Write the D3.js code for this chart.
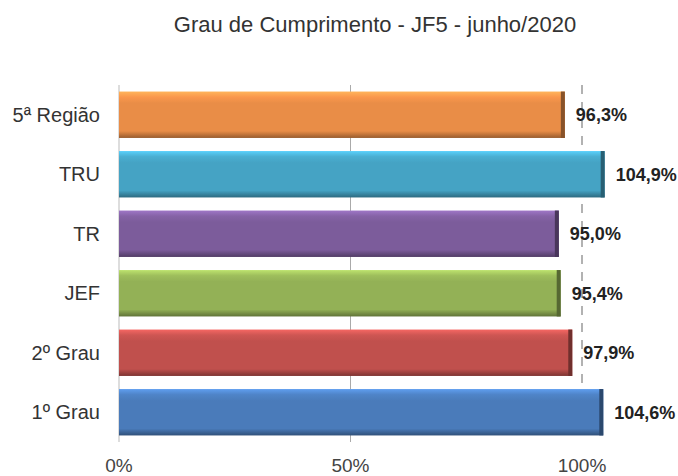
<!DOCTYPE html>
<html><head><meta charset="utf-8">
<script src="https://cdn.jsdelivr.net/npm/d3@7"></script>
<style>body{margin:0;background:#fff;}svg{display:block;font-family:Arial,"Liberation Sans",sans-serif;}</style>
</head><body>
<svg id="c" width="678" height="476"></svg>
<script>
const categories = ["5ª Região","TRU","TR","JEF","2º Grau","1º Grau"];
const values = [96.3,104.9,95.0,95.4,97.9,104.6];
const valueLabels = ["96,3%","104,9%","95,0%","95,4%","97,9%","104,6%"];
const colors = ["#E98D47","#45A3C4","#7C5C9B","#93B156","#C0504D","#4A7BBA"];
const tickValues = [0,50,100];
const tickLabels = ["0%","50%","100%"];
const title = "Grau de Cumprimento - JF5 - junho/2020";

(function(){
const svg = d3.select("#c");
const mLeft = 119, mTop = 85, mBottom = 442;
const x = d3.scaleLinear().domain([0,100]).range([mLeft, 582]);
const y = d3.scaleBand().domain(categories).range([mTop,mBottom]).paddingInner(0.22).paddingOuter(0.11);

const defs = svg.append("defs");
colors.forEach((c,i)=>{
  const g = defs.append("linearGradient").attr("id","g"+i).attr("x1",0).attr("y1",0).attr("x2",0).attr("y2",1);
  const base = d3.color(c);
  g.append("stop").attr("offset","0%").attr("stop-color",base.brighter(0.7));
  g.append("stop").attr("offset","12%").attr("stop-color",base.brighter(0.2));
  g.append("stop").attr("offset","25%").attr("stop-color",base);
  g.append("stop").attr("offset","85%").attr("stop-color",base);
  g.append("stop").attr("offset","100%").attr("stop-color",base.darker(1.2));
});

svg.append("text").attr("x",375).attr("y",32).attr("text-anchor","middle")
  .attr("font-size",22).attr("fill","#333").text(title);

svg.append("line").attr("x1",x(50)).attr("x2",x(50)).attr("y1",mTop).attr("y2",mBottom)
  .attr("stroke","#aaa").attr("stroke-width",1);
svg.append("line").attr("x1",x(100)).attr("x2",x(100)).attr("y1",mTop).attr("y2",mBottom)
  .attr("stroke","#999").attr("stroke-width",1.5).attr("stroke-dasharray","9,8");

svg.append("line").attr("x1",mLeft).attr("x2",mLeft).attr("y1",mTop).attr("y2",mBottom)
  .attr("stroke","#bbb").attr("stroke-width",1);

const bars = svg.append("g").selectAll("g").data(categories).join("g");
bars.append("rect").attr("x",x(0)).attr("y",d=>y(d)).attr("height",y.bandwidth())
  .attr("width",(d,i)=>x(values[i])-x(0)).attr("fill",(d,i)=>`url(#g${i})`);
bars.append("rect").attr("x",(d,i)=>x(values[i])-4).attr("y",d=>y(d)).attr("height",y.bandwidth())
  .attr("width",4).attr("fill",(d,i)=>d3.color(colors[i]).darker(1.5));

svg.append("g").selectAll("text").data(categories).join("text")
  .attr("x",100).attr("y",d=>y(d)+y.bandwidth()/2).attr("dy","0.35em")
  .attr("text-anchor","end").attr("font-size",20).attr("fill","#333").text(d=>d);

svg.append("g").selectAll("text").data(categories).join("text")
  .attr("x",(d,i)=>x(values[i])+11).attr("y",d=>y(d)+y.bandwidth()/2).attr("dy","0.35em")
  .attr("font-size",18).attr("font-weight","bold").attr("fill","#222").text((d,i)=>valueLabels[i]);

svg.append("g").selectAll("text").data(tickValues).join("text")
  .attr("x",d=>x(d)).attr("y",472).attr("text-anchor","middle")
  .attr("font-size",19).attr("fill","#444").text((d,i)=>tickLabels[i]);
})();
</script>
</body></html>
